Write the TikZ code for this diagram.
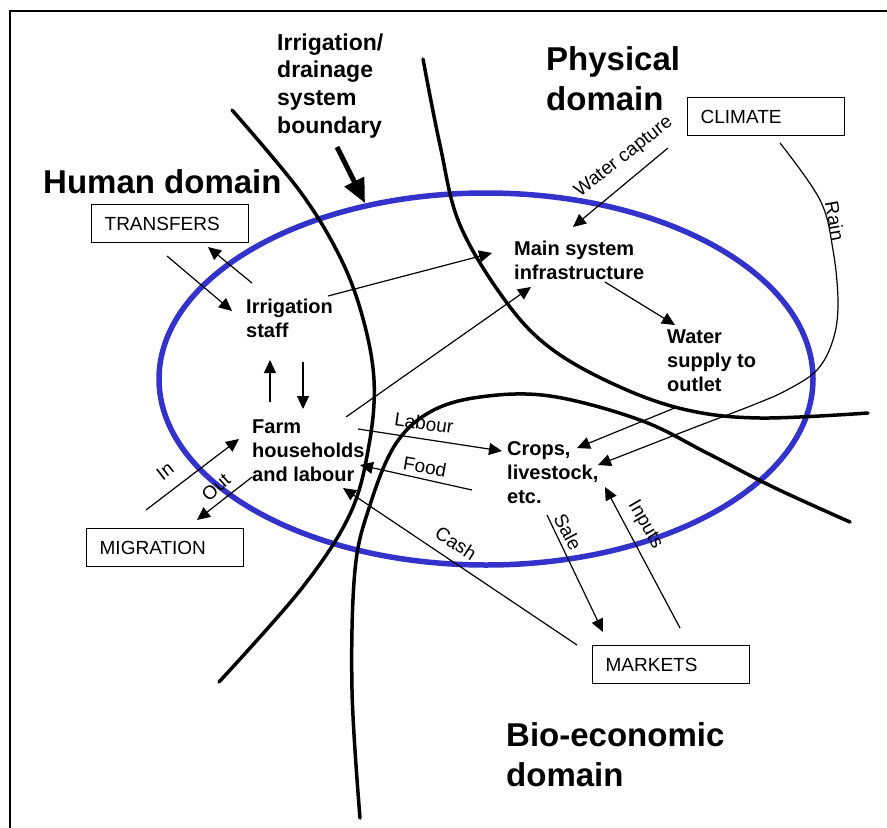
\documentclass[tikz,border=0pt]{standalone}
\usepackage{fontspec}
\setmainfont{Liberation Sans}
\usetikzlibrary{arrows.meta}
\newcommand\mlines[1]{\begin{tabular}[t]{@{}l@{}}#1\end{tabular}}
\definecolor{ringblue}{RGB}{51,51,204}
\tikzset{
  frameline/.style={line width=2.5pt},
  boundary/.style={line width=3.5pt, line cap=round},
  ring/.style={draw=ringblue, line width=5.5pt},
  flow/.style={line width=1.2pt, -{Triangle[length=13pt,width=12pt]}},
  bigflow/.style={line width=5pt, -{Triangle[length=24pt,width=21pt]}},
  boxnode/.style={draw, line width=1.3pt, rectangle, anchor=north west,
    minimum width=157pt, minimum height=38pt, text width=131pt,
    inner xsep=13pt, inner ysep=0pt, align=left,
    font=\fontsize{19}{23}\selectfont},
  label/.style={anchor=base west, inner sep=0pt, font=\fontsize{20}{24}\selectfont\bfseries},
  title/.style={anchor=base west, inner sep=0pt, font=\fontsize{33}{40}\selectfont\bfseries},
  flowtext/.style={inner sep=0pt, font=\fontsize{19}{23}\selectfont},
}
\begin{document}
\begin{tikzpicture}[x=1pt,y=-1pt]
\useasboundingbox (0,0) rectangle (887,828);

% outer frame (top and left edges)
\draw[frameline] (10,828) -- (10,11) -- (887,11);

% system boundary ring
\draw[ring] (486,379) ellipse [x radius=327, y radius=186];

% domain boundaries
\draw[boundary] plot[smooth, tension=0.6] coordinates {(232,110) (299,190) (339,255) (362,315) (374,380) (369,445) (350,514) (302,588) (219,682)};
\draw[boundary] plot[smooth, tension=0.6] coordinates {(423,59) (440,145) (460,225) (507,303) (553,350) (620,387) (687,410) (760,418) (868,413)};
\draw[boundary] plot[smooth, tension=0.6] coordinates {(360,818) (352,690) (355,570) (370,505) (395,445) (430,412) (480,397) (550,396) (640,420) (707,453) (773,487) (850,522)};

% domain titles
\node[title] (human) at (43,193) {Human domain};
\node[title] (physical) at (546,70) {\mlines{Physical\\domain}};
\node[title] (bioeco) at (506,746) {\mlines{Bio-economic\\domain}};
\node[anchor=base west, inner sep=0pt, font=\fontsize{23}{27.7}\selectfont\bfseries] (sysbound) at (277,50) {\mlines{Irrigation/\\drainage\\system\\boundary}};

% external boxes
\node[boxnode] (transfers) at (91,204) {TRANSFERS};
\node[boxnode] (climate) at (687,97) {CLIMATE};
\node[boxnode] (migration) at (86,528) {MIGRATION};
\node[boxnode] (markets) at (592,645) {MARKETS};

% internal elements
\node[label] (staff) at (246,313) {\mlines{Irrigation\\staff}};
\node[label] (farm) at (252,433) {\mlines{Farm\\households\\and labour}};
\node[label] (mainsys) at (514,255) {\mlines{Main system\\infrastructure}};
\node[label] (water) at (667,343) {\mlines{Water\\supply to\\outlet}};
\node[label] (crops) at (507,455) {\mlines{Crops,\\livestock,\\etc.}};

% connector end points
\coordinate (bndTail) at (337,147);  \coordinate (bndHead) at (365,203);
\coordinate (trInA) at (167,256);    \coordinate (trInB) at (232,311);
\coordinate (trOutA) at (252,283);   \coordinate (trOutB) at (208,247);
\coordinate (stMainA) at (328,296);  \coordinate (stMainB) at (492,253);
\coordinate (fmMainA) at (346,417);  \coordinate (fmMainB) at (531,287);
\coordinate (upA) at (270,402);      \coordinate (upB) at (270,360);
\coordinate (dnA) at (303,362);      \coordinate (dnB) at (303,409);
\coordinate (wcA) at (668,148);      \coordinate (wcB) at (573,227);
\coordinate (msWsA) at (605,282);    \coordinate (msWsB) at (675,325);
\coordinate (wsCrA) at (677,407);    \coordinate (wsCrB) at (577,448);
\coordinate (rainA) at (780,143);    \coordinate (rainB) at (598,465);
\coordinate (labA) at (358,429);     \coordinate (labB) at (502,451);
\coordinate (foodA) at (472,490);    \coordinate (foodB) at (360,465);
\coordinate (cashA) at (577,645);    \coordinate (cashB) at (343,488);
\coordinate (saleA) at (547,515);    \coordinate (saleB) at (603,632);
\coordinate (inpA) at (680,628);     \coordinate (inpB) at (605,487);
\coordinate (inA) at (146,510);      \coordinate (inB) at (239,439);
\coordinate (outA) at (252,477);     \coordinate (outB) at (197,520);

% connectors
\draw[bigflow] (bndTail) -- (bndHead);
\draw[flow] (trInA) -- (trInB);
\draw[flow] (trOutA) -- (trOutB);
\draw[flow] (stMainA) -- (stMainB);
\draw[flow] (fmMainA) -- (fmMainB);
\draw[flow] (upA) -- (upB);
\draw[flow] (dnA) -- (dnB);
\draw[flow] (wcA) -- (wcB);
\draw[flow] (msWsA) -- (msWsB);
\draw[flow] (wsCrA) -- (wsCrB);
\draw[flow] plot[smooth, tension=0.6] coordinates {(rainA) (820,200) (833,250) (838,303) (833,340) (817,370) (787,390) (753,405) (693,428) (rainB)};
\draw[flow] (labA) -- (labB);
\draw[flow] (foodA) -- (foodB);
\draw[flow] (cashA) -- (cashB);
\draw[flow] (saleA) -- (saleB);
\draw[flow] (inpA) -- (inpB);
\draw[flow] (inA) -- (inB);
\draw[flow] (outA) -- (outB);

% connector labels
\node[flowtext, rotate=38] (wcLbl) at (624,157) {Water capture};
\node[flowtext, rotate=-80] (rainLbl) at (835,221) {Rain};
\node[flowtext, rotate=-8] (labLbl) at (424,423) {Labour};
\node[flowtext, rotate=-10] (foodLbl) at (425,467) {Food};
\node[flowtext, rotate=-33] (cashLbl) at (456,543) {Cash};
\node[flowtext, rotate=-62] (saleLbl) at (568,532) {Sale};
\node[flowtext, rotate=-60] (inpLbl) at (645,525) {Inputs};
\node[flowtext, rotate=38] (inLbl) at (165,471) {In};
\node[flowtext, rotate=42] (outLbl) at (216,487) {Out};
\end{tikzpicture}
\end{document}
